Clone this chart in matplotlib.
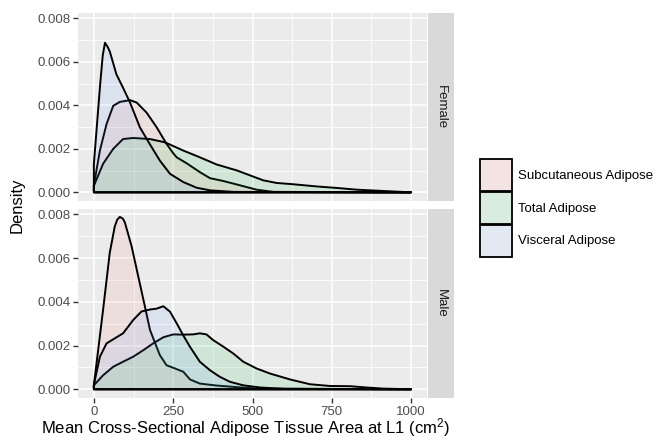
import numpy as np
import matplotlib.pyplot as plt
from matplotlib.patches import Patch

plt.rcParams['font.family'] = ['Liberation Sans', 'DejaVu Sans']
plt.rcParams['mathtext.fontset'] = 'custom'
plt.rcParams['mathtext.rm'] = 'Liberation Sans'
plt.rcParams['mathtext.it'] = 'Liberation Sans'

groups = ['Subcutaneous Adipose', 'Total Adipose', 'Visceral Adipose']
colors = ['#F8766D', '#00BA38', '#619CFF']
panels = ['Female', 'Male']

# Female, values (area in cm2, density)
f_sub_x = [0, 19, 40, 61, 82, 114, 135, 166, 198, 229, 250, 261, 292, 334, 366, 408, 461, 513, 566, 1000]
f_sub_y = [0.00032, 0.00192, 0.00314, 0.00398, 0.00416, 0.00424, 0.00413, 0.00367, 0.00299, 0.00223,
           0.00180, 0.00161, 0.00134, 0.00093, 0.00065, 0.00052, 0.00032, 0.00012, 0.00002, 0.0]
f_tot_x = [0, 29, 61, 92, 124, 177, 224, 282, 334, 387, 450, 492, 534, 576, 629, 702, 766, 829, 913, 1000]
f_tot_y = [0.0003, 0.00131, 0.00200, 0.00245, 0.00250, 0.00245, 0.00230, 0.00192, 0.00161, 0.00128,
           0.00101, 0.00078, 0.00055, 0.00043, 0.00037, 0.00027, 0.00020, 0.00012, 0.00006, 0.0]
f_vis_x = [0, 20, 28, 35, 43, 50, 71, 92, 114, 145, 177, 208, 240, 282, 324, 366, 440, 1000]
f_vis_y = [0.0013, 0.0050, 0.0063, 0.00688, 0.0067, 0.00649, 0.00543, 0.00481, 0.00413, 0.00299,
           0.00220, 0.00146, 0.00085, 0.00047, 0.00021, 0.00009, 0.00002, 0.0]

# Male
m_sub_x = [0, 29, 50, 66, 74, 82, 92, 98, 119, 140, 161, 177, 208, 229, 256, 282, 303, 334, 387, 439,
           513, 1000]
m_sub_y = [0.00018, 0.00363, 0.00624, 0.00746, 0.00777, 0.00789, 0.00780, 0.00762, 0.00654, 0.00516,
           0.00378, 0.00271, 0.00156, 0.00110, 0.00095, 0.00080, 0.00045, 0.00026, 0.00017, 0.00011,
           0.00003, 0.0]
m_tot_x = [0, 29, 61, 92, 124, 156, 187, 219, 250, 282, 313, 334, 355, 376, 408, 439, 471, 513, 555,
           618, 681, 744, 808, 860, 913, 1000]
m_tot_y = [0.00018, 0.00064, 0.00103, 0.00126, 0.00149, 0.00179, 0.00210, 0.00238, 0.00251, 0.00250,
           0.00251, 0.00256, 0.00251, 0.00225, 0.00195, 0.00164, 0.00126, 0.00095, 0.00072, 0.00045,
           0.00023, 0.00015, 0.00014, 0.00008, 0.00003, 0.0]
m_vis_x = [0, 19, 40, 66, 92, 124, 150, 177, 198, 219, 240, 261, 282, 303, 334, 366, 397, 429, 471,
           524, 600, 1000]
m_vis_y = [0.0002, 0.00149, 0.0021, 0.00233, 0.00256, 0.00317, 0.00356, 0.00365, 0.00369, 0.00380,
           0.00355, 0.00302, 0.00246, 0.00194, 0.00126, 0.00087, 0.00057, 0.00034, 0.00018, 0.00008,
           0.00002, 0.0]

data = {
    'Female': [(f_sub_x, f_sub_y), (f_tot_x, f_tot_y), (f_vis_x, f_vis_y)],
    'Male': [(m_sub_x, m_sub_y), (m_tot_x, m_tot_y), (m_vis_x, m_vis_y)],
}

x_ticks = [0, 250, 500, 750, 1000]
y_ticks = [0.0, 0.002, 0.004, 0.006, 0.008]


def fill_rgba(c, a=0.11):
    r, g, b = [int(c[i:i + 2], 16) / 255 for i in (1, 3, 5)]
    return (r, g, b, a)


def blend(c, bg=0.949, a=0.11):
    r, g, b = [int(c[i:i + 2], 16) / 255 for i in (1, 3, 5)]
    return tuple((1 - a) * bg + a * v for v in (r, g, b))


fig = plt.figure(figsize=(6.61, 4.45), dpi=100)
W, H = 661, 445
boxes = [(13, 201), (209, 398)]

for i, name in enumerate(panels):
    top, bot = boxes[i]
    ax = fig.add_axes([78 / W, 1 - bot / H, 349 / W, (bot - top) / H])
    ax.set_facecolor('#EBEBEB')
    for s in ax.spines.values():
        s.set_visible(False)
    ax.set_xlim(-50, 1050)
    ax.set_ylim(-0.0004, 0.00825)
    ax.set_xticks(x_ticks)
    ax.set_xticks([125, 375, 625, 875], minor=True)
    ax.set_yticks(y_ticks)
    ax.set_yticks([0.001, 0.003, 0.005, 0.007], minor=True)
    ax.grid(which='major', color='white', linewidth=1.1)
    ax.grid(which='minor', color='white', linewidth=0.55)
    ax.set_axisbelow(True)
    ax.tick_params(which='minor', length=0)
    ax.tick_params(which='major', color='#333333', length=3.5, width=1.0,
                   labelsize=9.5, labelcolor='#4D4D4D', pad=2.0)
    ax.set_yticklabels(['%.3f' % v for v in y_ticks])
    if i == 0:
        ax.tick_params(axis='x', which='both', length=0, labelbottom=False)
    else:
        ax.set_xticklabels([str(v) for v in x_ticks])

    for (xs, ys), c in zip(data[name], colors):
        px = np.r_[xs[0], xs, xs[-1]]
        py = np.r_[0, ys, 0]
        ax.fill(px, py, facecolor=fill_rgba(c), edgecolor='black', linewidth=1.4, joinstyle='round')

    sax = fig.add_axes([428 / W, 1 - bot / H, 26 / W, (bot - top) / H])
    sax.set_facecolor('#D9D9D9')
    sax.set_xticks([])
    sax.set_yticks([])
    for s in sax.spines.values():
        s.set_visible(False)
    sax.text(0.5, 0.5, name, rotation=270, ha='center', va='center',
             fontsize=9.5, color='#1A1A1A', transform=sax.transAxes)

fig.text(246 / W, 1 - 428 / H, 'Mean Cross-Sectional Adipose Tissue Area at L1 (cm$^{2}$)',
         ha='center', va='center', fontsize=12, color='black')
fig.text(17 / W, 1 - 205 / H, 'Density', rotation=90, ha='center', va='center',
         fontsize=12, color='black')

handles = [Patch(facecolor=blend(c), edgecolor='black', linewidth=1.3) for c in colors]
fig.legend(handles, groups, loc='center left', bbox_to_anchor=(480 / W, 1 - 208 / H),
           frameon=False, fontsize=9.5, handlelength=2.45, handleheight=3.35,
           labelspacing=0.05, handletextpad=0.4, borderpad=0, borderaxespad=0)

fig.savefig('out.png', dpi=100)
